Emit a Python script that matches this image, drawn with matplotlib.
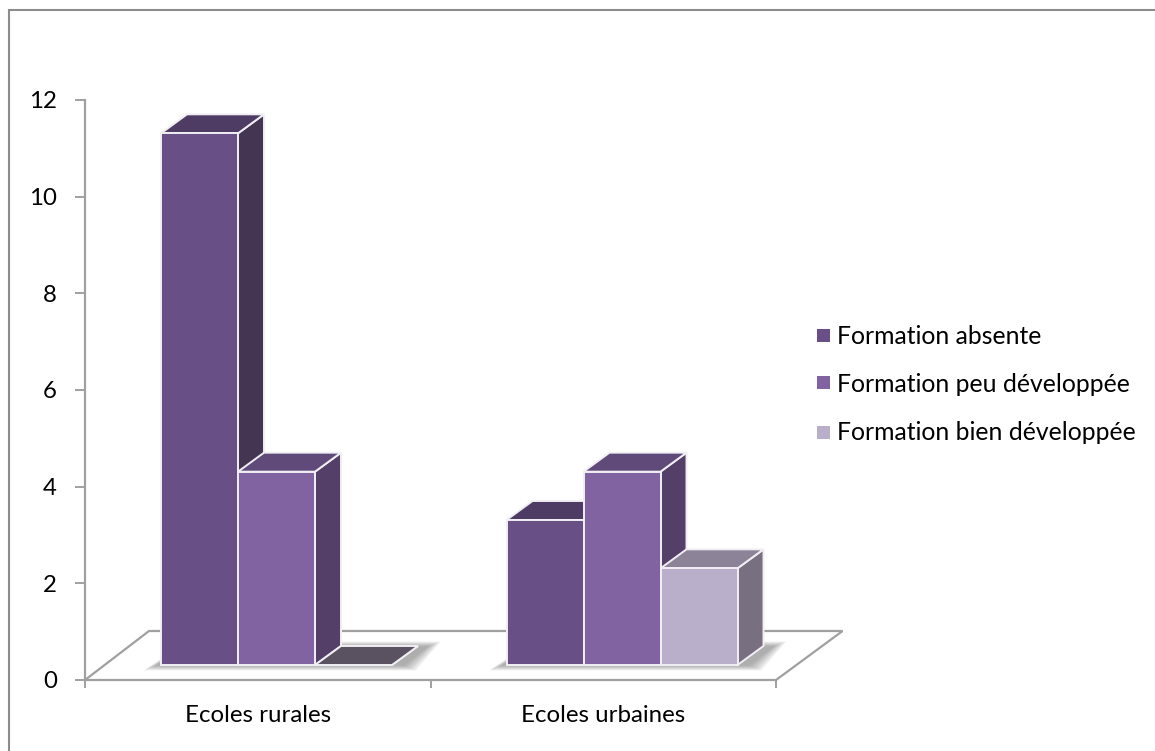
import numpy as np
import matplotlib
matplotlib.use('Agg')
import matplotlib.pyplot as plt
from matplotlib.patches import Polygon, Rectangle

# DATA
categories = ['Ecoles rurales', 'Ecoles urbaines']
series_names = ['Formation absente', 'Formation peu développée', 'Formation bien développée']
absente = [11, 3]
peu_developpee = [4, 4]
bien_developpee = [0, 2]
y_ticks = [0, 2, 4, 6, 8, 10, 12]

# COLOURS: front, top, side of each series
front_colors = ['#684f85', '#8163a2', '#b9afca']
top_colors = ['#4f3c64', '#5f4a7a', '#8c8398']
side_colors = ['#443552', '#533f68', '#787080']
empty_top = '#5a5260'

FONT = 'Lato'
FONT_SIZE = 17.3
LEGEND_SIZE = 17.8
AXIS_GREY = '#a0a0a0'

# pixel scale of the plot area
W, H = 1155, 751
LEFT, RIGHT, BOTTOM, TOP = 85, 776, 680, 100
px_x = (RIGHT - LEFT) / 2
px_y = (BOTTOM - TOP) / 12

# depth of the 3d box, and of the floor, in data units
bar_w = 77 / px_x
bar_start = 76 / px_x
dep_x = 26 / px_x
dep_y = 19 / px_y
base = 15 / px_y
floor_x = 64 / px_x
floor_y = 49 / px_y


def draw_shadow(ax, x0, x1, z):
    # soft shadow on the floor, built from stacked translucent shapes
    for k in range(8, 0, -1):
        grow = k * 1.7
        pts = [(x0 - grow / px_x - 4 / px_x, base - 0.4 * grow / px_y),
               (x1 + grow / px_x + dep_x * 0.4, base - 0.4 * grow / px_y),
               (x1 + grow / px_x + dep_x * 1.35, base + dep_y * 0.95 + 0.4 * grow / px_y),
               (x0 + dep_x, base + dep_y * 0.95 + 0.4 * grow / px_y)]
        ax.add_patch(Polygon(pts, closed=True, fc='#505050', ec='none', alpha=0.07,
                             zorder=z, clip_on=False))


def draw_box(ax, x, val, front, top, side, z):
    edge = dict(ec='#f1eef4', lw=1.4, joinstyle='miter', clip_on=False, zorder=z)
    y0 = base
    y1 = base + val
    ax.add_patch(Polygon([(x + bar_w, y0), (x + bar_w + dep_x, y0 + dep_y),
                          (x + bar_w + dep_x, y1 + dep_y), (x + bar_w, y1)],
                         closed=True, fc=side, **edge))
    ax.add_patch(Polygon([(x, y1), (x + bar_w, y1), (x + bar_w + dep_x, y1 + dep_y),
                          (x + dep_x, y1 + dep_y)], closed=True,
                         fc=top if val > 0 else empty_top, **edge))
    if val > 0:
        ax.add_patch(Polygon([(x, y0), (x + bar_w, y0), (x + bar_w, y1), (x, y1)],
                             closed=True, fc=front, **edge))


fig = plt.figure(figsize=(W / 100, H / 100), dpi=100)
fig.patch.set_facecolor('white')

ax = fig.add_axes([LEFT / W, 1 - BOTTOM / H, (RIGHT - LEFT) / W, (BOTTOM - TOP) / H])
ax.set_xlim(0, 2)
ax.set_ylim(0, 12)
ax.patch.set_alpha(0)

# axis lines and floor
for s in ['top', 'right']:
    ax.spines[s].set_visible(False)
for s in ['left', 'bottom']:
    ax.spines[s].set_color(AXIS_GREY)
    ax.spines[s].set_linewidth(1.6)
ax.set_xticks([0, 1, 2])
ax.set_xticklabels([])
ax.set_yticks(y_ticks)
ax.set_yticklabels([str(v) for v in y_ticks], fontname=FONT, fontsize=FONT_SIZE, color='black')
ax.tick_params(axis='y', length=7.2, width=1.4, color=AXIS_GREY, pad=13)
ax.tick_params(axis='x', length=6, width=1.4, color=AXIS_GREY)
ax.plot([0, floor_x, 2 + floor_x * 1.04, 2], [0, floor_y, floor_y, 0], color=AXIS_GREY,
        lw=1.6, clip_on=False, zorder=1, solid_joinstyle='miter')

for i, cat in enumerate(categories):
    ax.text(i + 0.5, -36 / px_y, cat, ha='center', va='center', fontname=FONT, fontsize=FONT_SIZE,
            color='black', clip_on=False)

# bars, drawn left to right so each box covers the side of the one before it
series = [absente, peu_developpee, bien_developpee]
for i in range(len(categories)):
    x_start = i + bar_start
    draw_shadow(ax, x_start, x_start + 3 * bar_w, 2)
    for j in range(3):
        draw_box(ax, x_start + j * bar_w, series[j][i], front_colors[j], top_colors[j],
                 side_colors[j], 3 + j * 0.1)

# legend
leg_y = [335, 383, 432]
for name, col, yy in zip(series_names, front_colors, leg_y):
    fig.add_artist(Rectangle((817 / W, 1 - (yy + 6.5) / H), 13 / W, 13 / H,
                             transform=fig.transFigure, fc=col, ec='none'))
    fig.text(837 / W, 1 - (yy + 1) / H, name, ha='left', va='center', fontname=FONT,
             fontsize=LEGEND_SIZE, color='black')

# frame of the chart: only the left and top edges show
fig.add_artist(plt.Line2D([8.5 / W, 8.5 / W, 1], [0, 1 - 10 / H, 1 - 10 / H],
                          transform=fig.transFigure, color='#8c8c8c', lw=1.5,
                          solid_joinstyle='miter'))

fig.savefig('out.png', dpi=100)
